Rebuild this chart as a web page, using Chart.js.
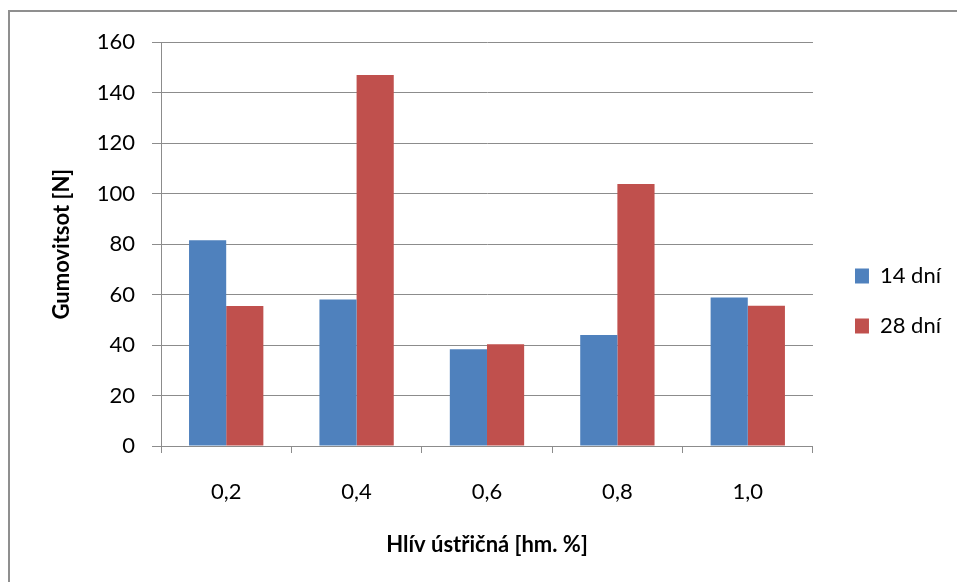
<!DOCTYPE html>
<html>
<head>
<meta charset="utf-8">
<script src="https://cdn.jsdelivr.net/npm/chart.js@4.4.0/dist/chart.umd.min.js"></script>
<style>
  html, body { margin: 0; padding: 0; background: #fff; }
  #wrap {
    position: absolute; left: 8px; top: 10px;
    width: 947px; height: 570px;
    border-left: 2px solid #8f8f8f; border-top: 2px solid #8f8f8f;
  }
</style>
</head>
<body>
<div id="wrap"><canvas id="myChart" width="947" height="570"></canvas></div>
<script>
var categories = ["0,2", "0,4", "0,6", "0,8", "1,0"];
var days14 = [81.5, 58, 38.3, 44, 58.8];
var days28 = [55.5, 147, 40.3, 103.8, 55.6];
var seriesNames = ["14 dní", "28 dní"];
var yTicks = { min: 0, max: 160, step: 20 };

var font = "Lato";
var gray = "#8c8c8c";

Chart.defaults.font.family = font;
Chart.defaults.color = "#000";

var ctx = document.getElementById("myChart").getContext("2d");
var myChart = new Chart(ctx, {
    type: "bar",
    data: {
        labels: categories,
        datasets: [{
            label: seriesNames[0],
            backgroundColor: "#4f81bd",
            data: days14
        }, {
            label: seriesNames[1],
            backgroundColor: "#c0504d",
            data: days28
        }]
    },
    options: {
        responsive: false,
        animation: false,
        categoryPercentage: 0.57,
        barPercentage: 1.0,
        layout: { padding: { top: 20, right: 6, bottom: 12, left: 0 } },
        plugins: {
            tooltip: { enabled: false },
            legend: {
                position: "right",
                align: "center",
                labels: {
                    boxWidth: 14,
                    boxHeight: 15,
                    padding: 28,
                    font: { size: 22 },
                    color: "#000"
                }
            }
        },
        scales: {
            x: {
                grid: {
                    display: true,
                    drawOnChartArea: false,
                    color: gray,
                    tickLength: 7,
                    offset: true
                },
                border: { color: gray },
                ticks: { padding: 26, font: { size: 22 } },
                title: {
                    display: true,
                    text: "Hlív ústřičná [hm. %]",
                    font: { size: 22, weight: "bold" },
                    padding: { top: 4, bottom: 12 }
                },
                afterFit: function(scale) { scale.height = 124; }
            },
            y: {
                min: yTicks.min,
                max: yTicks.max,
                ticks: { stepSize: yTicks.step, padding: 17, font: { size: 22 } },
                grid: { color: gray, tickLength: 9 },
                border: { color: gray },
                title: {
                    display: true,
                    text: "Gumovitsot [N]",
                    font: { size: 22, weight: "bold" },
                    padding: { top: 39, bottom: 0 }
                },
                afterFit: function(scale) { scale.width = 151; }
            },
            gap: {
                position: "right",
                display: true,
                ticks: { display: false },
                grid: { display: false },
                border: { display: false },
                afterFit: function(scale) { scale.width = 14; }
            }
        }
    }
});
</script>
</body>
</html>
